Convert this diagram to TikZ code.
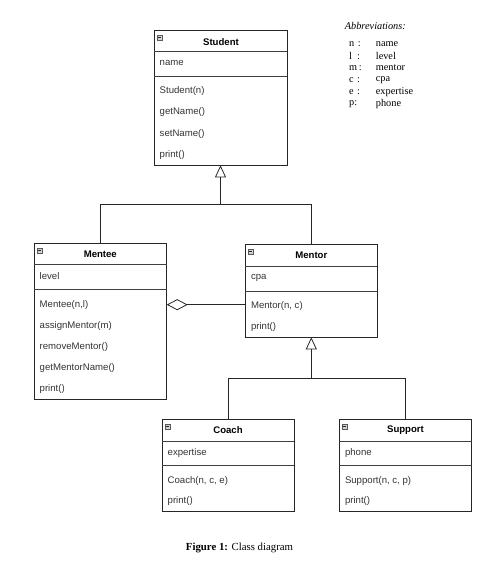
\documentclass[tikz,border=0pt]{standalone}
\usepackage{fontspec}
\setmainfont{Liberation Sans}
\newfontfamily\abbrfont{Liberation Serif}
\usetikzlibrary{arrows.meta}
\tikzset{
  box/.style={draw=black!85, line width=0.8pt, anchor=north west, inner sep=0pt, outer sep=0pt},
  sepline/.style={draw=black!75, line width=1pt},
  hdr/.style={font=\fontsize{9.6}{11}\selectfont\bfseries, text=black, inner sep=0pt},
  row/.style={font=\fontsize{9.6}{11}\selectfont, text=black!80, anchor=west, inner sep=0pt},
  icon/.style={draw=gray!70!black, fill=gray!35, line width=0.5pt, minimum width=5.5pt, minimum height=5pt, inner sep=0pt,
    path picture={\draw[gray!30!black, line width=0.6pt] ([xshift=1.2pt]path picture bounding box.west) -- ([xshift=-1.2pt]path picture bounding box.east);}},
  conn/.style={draw=black!85, line width=0.8pt},
  gen/.style={-{Triangle[open, length=12pt, width=11pt, line width=0.8pt]}},
  agg/.style={{Diamond[open, length=21pt, width=11pt, line width=0.8pt]}-},
  abbr/.style={font=\abbrfont\fontsize{10.3}{12}\selectfont, anchor=west, inner sep=0pt}
}
\begin{document}
\begin{tikzpicture}[x=1pt, y=-1pt]
\useasboundingbox (0,0) rectangle (477,583);

% ---------- Student ----------
\node[box, minimum width=133pt, minimum height=135.3pt] (student) at (154,30) {};
\draw[sepline] (student.west |- 0,52) -- (student.east |- 0,52);
\draw[sepline] (student.west |- 0,76.7) -- (student.east |- 0,76.7);
\node[icon] (student-i) at (159.5,37.5) {};
\node[hdr] (student-h) at (221,41.7) {Student};
\node[row] (student-a1) at (159.5,63.3) {name};
\node[row] (student-m1) at (159.5,91) {Student(n)};
\node[row] (student-m2) at (159.5,112.3) {getName()};
\node[row] (student-m3) at (159.5,133.7) {setName()};
\node[row] (student-m4) at (159.5,155.3) {print()};

% ---------- Mentee ----------
\node[box, minimum width=132.7pt, minimum height=156pt] (mentee) at (34,243.3) {};
\draw[sepline] (mentee.west |- 0,264.3) -- (mentee.east |- 0,264.3);
\draw[sepline] (mentee.west |- 0,289) -- (mentee.east |- 0,289);
\node[icon] (mentee-i) at (39.5,250.5) {};
\node[hdr] (mentee-h) at (100.3,254.7) {Mentee};
\node[row] (mentee-a1) at (39.5,275.7) {level};
\node[row] (mentee-m1) at (39.5,304.7) {Mentee(n,l)};
\node[row] (mentee-m2) at (39.5,326) {assignMentor(m)};
\node[row] (mentee-m3) at (39.5,347) {removeMentor()};
\node[row] (mentee-m4) at (39.5,368.3) {getMentorName()};
\node[row] (mentee-m5) at (39.5,389.3) {print()};

% ---------- Mentor ----------
\node[box, minimum width=132pt, minimum height=93pt] (mentor) at (245.3,244.3) {};
\draw[sepline] (mentor.west |- 0,266.7) -- (mentor.east |- 0,266.7);
\draw[sepline] (mentor.west |- 0,291) -- (mentor.east |- 0,291);
\node[icon] (mentor-i) at (250.8,251.5) {};
\node[hdr] (mentor-h) at (311.3,255.7) {Mentor};
\node[row] (mentor-a1) at (250.8,277.7) {cpa};
\node[row] (mentor-m1) at (250.8,306) {Mentor(n, c)};
\node[row] (mentor-m2) at (250.8,327.3) {print()};

% ---------- Coach ----------
\node[box, minimum width=132pt, minimum height=92.4pt] (coach) at (162,419.3) {};
\draw[sepline] (coach.west |- 0,441.3) -- (coach.east |- 0,441.3);
\draw[sepline] (coach.west |- 0,465.7) -- (coach.east |- 0,465.7);
\node[icon] (coach-i) at (167.5,426.5) {};
\node[hdr] (coach-h) at (228,430.3) {Coach};
\node[row] (coach-a1) at (167.5,452.7) {expertise};
\node[row] (coach-m1) at (167.5,480.7) {Coach(n, c, e)};
\node[row] (coach-m2) at (167.5,500.7) {print()};

% ---------- Support ----------
\node[box, minimum width=132.4pt, minimum height=92.4pt] (support) at (339.3,419.3) {};
\draw[sepline] (support.west |- 0,441.3) -- (support.east |- 0,441.3);
\draw[sepline] (support.west |- 0,465.7) -- (support.east |- 0,465.7);
\node[icon] (support-i) at (344.8,426.5) {};
\node[hdr] (support-h) at (405.5,430.3) {Support};
\node[row] (support-a1) at (344.8,452.7) {phone};
\node[row] (support-m1) at (344.8,480.7) {Support(n, c, p)};
\node[row] (support-m2) at (344.8,500.7) {print()};

% ---------- Connectors ----------
\coordinate (j1) at (student.south |- 0,204);
\draw[conn, gen] (mentee.north) |- (j1) -- (student.south);
\draw[conn] (mentor.north) |- (j1);

\coordinate (j2) at (mentor.south |- 0,378);
\draw[conn, gen] (coach.north) |- (j2) -- (mentor.south);
\draw[conn] (support.north) |- (j2);

\draw[conn, agg] (mentee.east |- mentee-m1) -- (mentor.west |- mentee-m1);

% ---------- Abbreviations ----------
\node[abbr, font=\abbrfont\itshape\fontsize{10.3}{12}\selectfont] (abbr-t) at (344.7,25.7) {Abbreviations:};
\node[abbr] (k1) at (349,44) {n\,\,:};
\node[abbr] (v1) at (375.7,44) {name};
\node[abbr] (k2) at (349,56) {l\,\,\,:};
\node[abbr] (v2) at (375.7,56) {level};
\node[abbr] (k3) at (349,68) {m\,:};
\node[abbr] (v3) at (375.7,68) {mentor};
\node[abbr] (k4) at (349,80) {c\,\,:};
\node[abbr] (v4) at (375.7,80) {cpa};
\node[abbr] (k5) at (349,92) {e\,\,:};
\node[abbr] (v5) at (375.7,92) {expertise};
\node[abbr] (k6) at (349,104) {p:};
\node[abbr] (v6) at (375.7,104) {phone};

% ---------- Caption ----------
\node[font=\abbrfont\fontsize{10.8}{13}\selectfont, inner sep=0pt] (caption) at (239.5,548.3) {\textbf{Figure 1:} Class diagram};
\end{tikzpicture}
\end{document}
